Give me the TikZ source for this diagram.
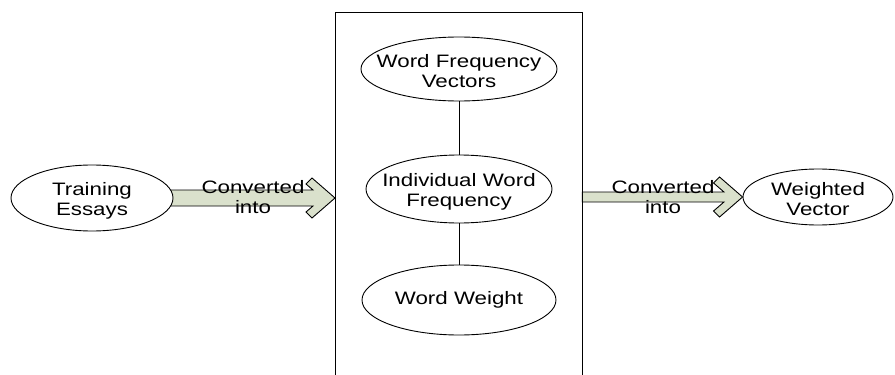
\documentclass[tikz,border=0pt]{standalone}
\usepackage{fontspec}
\setmainfont{Liberation Sans}[FakeStretch=1.24]
\usetikzlibrary{calc,backgrounds,shapes.geometric}
\definecolor{shaftfill}{RGB}{218,225,204}
\begin{document}
\begin{tikzpicture}[x=1pt,y=-1pt,
  every node/.style={font=\fontsize{18}{20}\selectfont, align=center, inner sep=0pt},
  oval/.style={ellipse, draw, line width=0.9pt, fill=white},
  link/.style={draw, line width=0.9pt},
  fat/.style={draw, line width=0.9pt, fill=shaftfill, line join=miter},
  twoline/.style={yshift=-2.5pt}]
\useasboundingbox (0,0) rectangle (895,375);

% processing container, open at the bottom edge
\node[minimum width=247, minimum height=366, anchor=north west] (box) at (335,12) {};
\draw[link] (box.south west) -- (box.north west) -- (box.north east) -- (box.south east);

% stages inside the container
\node[oval, minimum width=196, minimum height=64] (wfv) at (459,69) {};
\node[twoline] (wfvText) at (wfv) {Word Frequency\\Vectors};
\node[oval, minimum width=186, minimum height=68] (iwf) at (459,189) {};
\node[twoline] (iwfText) at (iwf) {Individual Word\\Frequency};
\node[oval, minimum width=194, minimum height=70] (ww) at (459,300) {};
\node (wwText) at (ww) {Word Weight};

% input and output
\node[oval, minimum width=162, minimum height=66] (te) at (92,198) {};
\node[twoline] (teText) at (te) {Training\\Essays};
\node[oval, minimum width=150, minimum height=56] (wv) at (818,197) {};
\node[twoline] (wvText) at (wv) {Weighted\\Vector};

\draw[link] (wfv.south) -- (iwf.north);
\draw[link] (iwf.south) -- (ww.north);

% block arrows with chevron heads
\begin{scope}[on background layer]
  \coordinate (s1) at ($(te.east)+(-4,0)$);
  \coordinate (t1) at (te.east -| box.west);
  \path[fat] ($(s1)+(0,-8)$) -- ($(t1)+(-22,-8)$) -- ($(t1)+(-29,-14)$) -- ($(t1)+(-23,-20)$)
    -- (t1) -- ($(t1)+(-23,20)$) -- ($(t1)+(-29,14)$) -- ($(t1)+(-22,8)$) -- ($(s1)+(0,8)$) -- cycle;
  \coordinate (s2) at (box.east |- wv.west);
  \coordinate (t2) at (wv.west);
  \path[fat] ($(s2)+(0,-5)$) -- ($(t2)+(-18.6,-5)$) -- ($(t2)+(-29,-14)$) -- ($(t2)+(-23,-20)$)
    -- (t2) -- ($(t2)+(-23,20)$) -- ($(t2)+(-29,14)$) -- ($(t2)+(-18.6,5)$) -- ($(s2)+(0,5)$) -- cycle;
\end{scope}

\node (lblA) at (253,197) {Converted\\into};
\node (lblB) at (663,197) {Converted\\into};
\end{tikzpicture}
\end{document}
